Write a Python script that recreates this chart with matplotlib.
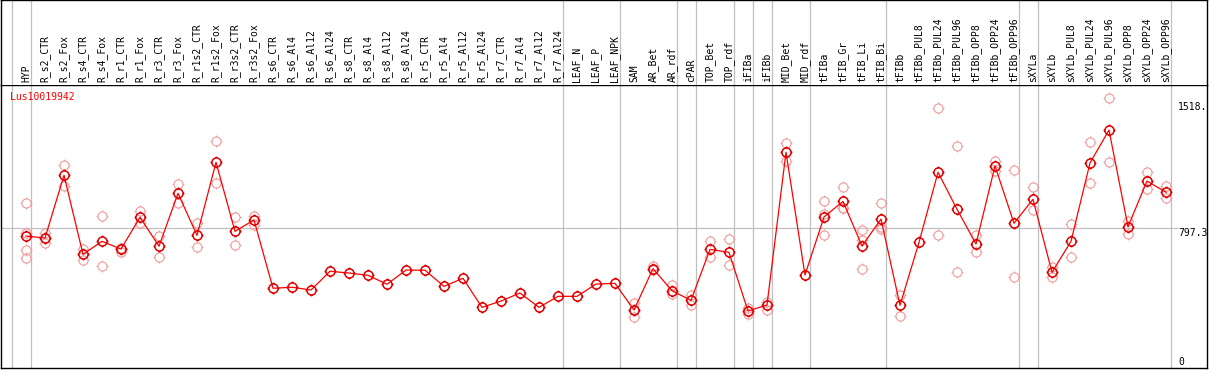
import matplotlib
matplotlib.use("Agg")
import matplotlib.pyplot as plt
from matplotlib.path import Path

# nombres de las muestras (columnas)
muestras = ["HYP", "R_s2_CTR", "R_s2_Fox", "R_s4_CTR", "R_s4_Fox", "R_r1_CTR", "R_r1_Fox",
            "R_r3_CTR", "R_r3_Fox", "R_r1s2_CTR", "R_r1s2_Fox", "R_r3s2_CTR", "R_r3s2_Fox",
            "R_s6_CTR", "R_s6_Al4", "R_s6_Al12", "R_s6_Al24", "R_s8_CTR", "R_s8_Al4",
            "R_s8_Al12", "R_s8_Al24", "R_r5_CTR", "R_r5_Al4", "R_r5_Al12", "R_r5_Al24",
            "R_r7_CTR", "R_r7_Al4", "R_r7_Al12", "R_r7_Al24", "LEAF_N", "LEAF_P", "LEAF_NPK",
            "SAM", "AR_Bet", "AR_rdf", "cPAR", "TOP_Bet", "TOP_rdf", "iFIBa", "iFIBb",
            "MID_Bet", "MID_rdf", "tFIBa", "tFIB_Gr", "tFIB_Li", "tFIB_Bi", "tFIBb",
            "tFIBb_PUL8", "tFIBb_PUL24", "tFIBb_PUL96", "tFIBb_OPP8", "tFIBb_OPP24",
            "tFIBb_OPP96", "sXYLa", "sXYLb", "sXYLb_PUL8", "sXYLb_PUL24", "sXYLb_PUL96",
            "sXYLb_OPP8", "sXYLb_OPP24", "sXYLb_OPP96"]

# valor medio por muestra
medias = [753, 742, 1100, 649, 723, 679, 860, 695, 997, 757, 1174, 780, 845,
          455, 461, 445, 552, 542, 529, 478, 559, 558, 466, 512, 346, 382, 428, 346, 409,
          409, 479, 483, 331, 567, 441, 386, 677, 660, 325, 360, 1231, 531,
          862, 951, 696, 850, 358, 717, 1117, 906, 708, 1153, 826,
          963, 546, 723, 1170, 1358, 806, 1067, 1003]

# replicas individuales
replicas = [[940, 772, 673, 626], [768, 742, 713], [1159, 1040], [679, 616], [866, 582],
            [687, 664], [898, 829], [752, 635], [1048, 940], [826, 689], [1294, 1054],
            [860, 700], [869, 814],
            [], [], [], [], [], [], [], [], [], [], [], [], [], [], [], [], [], [], [],
            [371, 331, 291], [582, 559], [472, 422], [415, 360], [725, 632], [736, 586],
            [341, 308], [378, 331], [1282, 1180], [],
            [951, 877, 757], [1031, 911, 911], [786, 730, 563], [940, 806, 792],
            [415, 298], [], [1484, 757], [1267, 546], [761, 660], [1183, 1126], [1130, 518],
            [1033, 900], [575, 521], [820, 632], [1288, 1056], [1539, 1176], [841, 765],
            [1119, 1020], [1039, 968]]

# separadores de grupo (a la derecha de estas columnas)
separadores = [-1, 0, 28, 31, 34, 35, 37, 38, 39, 41, 45, 52, 53, 60]

etiquetas_y = [1518, 797.3, 0]
gen = "Lus10019942"

W, H = 1209, 370
fig = plt.figure(figsize=(W / 100, H / 100), dpi=100)

# posiciones en pixeles
x_col0, paso = 26, 19
px_izq, px_der = 1, 1207
py_cab, py_fondo = 85, 368
escala = 797.3 / (368 - 228.3)

xmin = (px_izq - x_col0) / paso
xmax = (px_der - x_col0) / paso
ymax = (py_fondo - py_cab) * escala

ax = fig.add_axes([px_izq / W, (H - py_fondo) / H, (px_der - px_izq) / W, (py_fondo - py_cab) / H])
cab = fig.add_axes([px_izq / W, (H - py_cab) / H, (px_der - px_izq) / W, py_cab / H - 0.001])

gris = "#c0c0c0"
for a in (ax, cab):
    a.set_xlim(xmin, xmax)
    a.set_xticks([])
    a.set_yticks([])
    for s in a.spines.values():
        s.set_linewidth(1.0)
        s.set_color("black")
    for c in separadores:
        a.axvline(c + 0.245, color=gris, lw=0.9, zorder=1)
cab.spines["bottom"].set_visible(False)
cab.set_ylim(0, 1)
ax.set_ylim(0, ymax)

# etiquetas de las columnas
for i, m in enumerate(muestras):
    cab.text(i, 0.03, m, rotation=90, ha="center", va="bottom",
             family="DejaVu Sans Mono", fontsize=7)

# marcador: circulo con pequeñas marcas
circulo = Path.unit_circle()
marcas = [Path([[0, 1], [0, 1.3]]), Path([[0, -1], [0, -1.3]]),
          Path([[1, 0], [1.3, 0]]), Path([[-1, 0], [-1.3, 0]])]
marcador = Path.make_compound_path(circulo, *marcas)

x_lim_grid = (1178 - x_col0) / paso
ax.hlines(797.3, xmin, x_lim_grid, color=gris, lw=0.9, zorder=1)

for i, reps in enumerate(replicas):
    if reps:
        ax.plot([i] * len(reps), reps, linestyle="none", marker=marcador, markersize=8.5,
                markerfacecolor="none", markeredgecolor="#f09a9a", markeredgewidth=0.8, zorder=2)

xs = list(range(len(medias)))
ax.plot(xs, medias, color="red", lw=0.9, zorder=3)
ax.plot(xs, medias, linestyle="none", marker=marcador, markersize=8.5,
        markerfacecolor="none", markeredgecolor="#e00000", markeredgewidth=1.1, zorder=4)

# etiquetas del eje y
xt = (1178 - x_col0) / paso
for v in etiquetas_y:
    txt = "1518." if v == 1518 else ("0" if v == 0 else str(v))
    ax.text(xt, v if v else 6, txt, ha="left", va="top" if v else "bottom",
            family="DejaVu Sans Mono", fontsize=7, clip_on=True)

ax.text((10 - x_col0) / paso, (py_fondo - 97) * escala, gen, color="red", ha="left",
        va="center", family="DejaVu Sans Mono", fontsize=7)

fig.savefig("out.png", dpi=100)
